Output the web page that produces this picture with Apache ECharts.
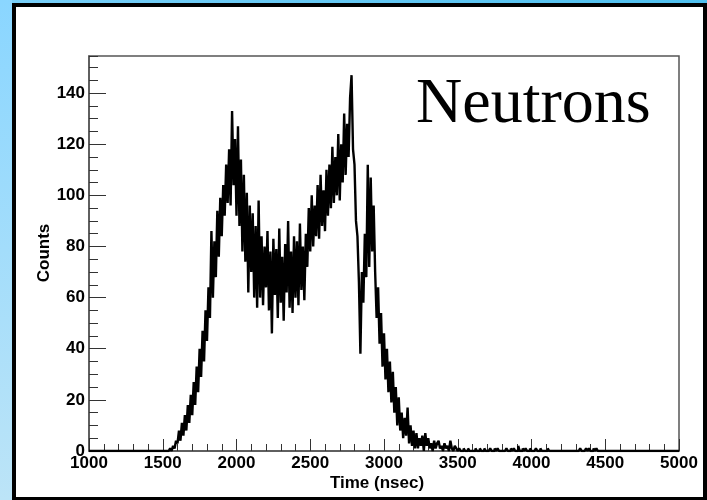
<!DOCTYPE html>
<html><head><meta charset="utf-8">
<script src="https://cdn.jsdelivr.net/npm/echarts@6/dist/echarts.min.js"></script>
<style>html,body{margin:0;padding:0;background:#fff}#c{width:707px;height:500px}</style>
</head><body><div id="c"></div>
<script>
// Histogram: 10 ns bins, first listed bin starts at 1500 ns
const binWidth = 10;
const firstBin = 1500;
const rise   = [0,0,0,0,0, 1,0,2,1,4, 3,8,4,11,6, 14,8,18,11,22, 14,27,18,33,23, 40,29,47,35,55, 43,64,52,86,60, 82,68,94,76,99];
const peak1  = [84,104,92,112,97, 118,96,133,104,122, 92,127,88,114,78, 108,74,101,62,96];
const valley = [70,93,60,88,56, 98,60,84,57,80, 64,86,55,78,46, 83,61,79,52,87, 58,76,51,81,62, 90,56,78,54,84, 60,82,57,89,63, 80,59,85,72,95];
const rise2  = [78,100,80,96,84, 104,83,108,88,102, 86,110,92,112,95, 119,97,115,100,124, 98,120,105,132,108, 128,115,138,147,118];
const fall   = [112,90,84,66,38, 70,58,85,68,112, 72,107,78,96,70, 52,64,42,54,33, 46,28,40,23,35, 19,31,15,25,10];
const tail   = [21,8,15,5,13, 6,17,3,10,2, 8,1,7,1,5, 2,6,0,7,2, 5,1,3,0,4, 1,3,4,1,2, 0,3,1,2,0, 4,1,0,2,1, 0,1,0,0,1, 0,0,1,0,0];
// isolated late counts [bin start (ns), counts]
const sparseTail = [[3620,1],[3650,1],[3680,1],[3720,1],[3750,1],[3770,1],[3830,1],[3860,1],[3880,1],[3910,2],[3940,1],[3960,1],[3990,1],[4030,1],[4060,1],[4110,1],[4330,1],[4370,1],[4390,1],[4420,1],[4440,1]];

const xMin = 1000, xMax = 5000, xMajor = 500;
const yMin = 0, yMax = 154.5, yMajor = 20, yMinor = 5;
const xTitle = 'Time (nsec)';
const yTitle = 'Counts';
const label = 'Neutrons';

const countsByBin = {};
[].concat(rise, peak1, valley, rise2, fall, tail).forEach((v, i) => { countsByBin[firstBin + i * binWidth] = v; });
sparseTail.forEach(([t, v]) => { countsByBin[t] = v; });
const data = [];
for (let t = xMin; t < xMax; t += binWidth) data.push([t, countsByBin[t] || 0]);
data.push([xMax, data[data.length - 1][1]]);

const axisCol = '#555';
const lab = { color: '#000', fontFamily: 'Liberation Sans', fontWeight: 'bold', fontSize: 17 };

const chart = echarts.init(document.getElementById('c'), null, { renderer: 'canvas' });
chart.setOption({
  animation: false,
  backgroundColor: '#fff',
  graphic: [
    { type: 'rect', z: -10, silent: true, shape: { x: 0, y: 0, width: 707, height: 500 },
      style: { fill: new echarts.graphic.LinearGradient(0, 0, 0, 1, [{ offset: 0, color: '#8ad6ff' }, { offset: 1, color: '#bce4f7' }]) } },
    { type: 'rect', z: -9, silent: true, shape: { x: 12, y: 0, width: 695, height: 4 },
      style: { fill: new echarts.graphic.LinearGradient(0, 0, 1, 0, [{ offset: 0, color: '#78cff8' }, { offset: 1, color: '#4fc0ef' }]) } },
    { type: 'rect', z: -8, silent: true, shape: { x: 12, y: 3, width: 695, height: 497 }, style: { fill: '#000' } },
    { type: 'rect', z: -7, silent: true, shape: { x: 16, y: 7, width: 687, height: 490 }, style: { fill: '#fff' } },
    { type: 'text', z: 10, x: 416, y: 73, style: { text: label, fill: '#000', font: '64px "Liberation Serif"', textAlign: 'left', textVerticalAlign: 'top' } },
    { type: 'text', z: 10, x: 44, y: 253, rotation: Math.PI / 2, style: { text: yTitle, fill: '#000', font: 'bold 17px "Liberation Sans"', textAlign: 'center', textVerticalAlign: 'middle' } },
    { type: 'text', z: 10, x: 377, y: 483, style: { text: xTitle, fill: '#000', font: 'bold 17px "Liberation Sans"', textAlign: 'center', textVerticalAlign: 'middle' } }
  ],
  grid: { left: 89, right: 28, top: 56, bottom: 49, show: true, borderColor: axisCol, borderWidth: 1.5, backgroundColor: 'transparent' },
  xAxis: [{
    type: 'value', min: xMin, max: xMax, interval: xMajor, position: 'bottom',
    axisLine: { show: true, lineStyle: { color: axisCol, width: 1.5 } },
    axisTick: { show: true, inside: true, length: 12, lineStyle: { color: '#333', width: 1 } },
    minorTick: { show: true, splitNumber: 5, length: 7, lineStyle: { color: '#333', width: 1 } },
    axisLabel: Object.assign({ margin: 4, formatter: v => String(v) }, lab),
    splitLine: { show: false }, minorSplitLine: { show: false }
  }],
  yAxis: [{
    type: 'value', min: yMin, max: yMax, interval: yMajor, position: 'left',
    axisLine: { show: true, lineStyle: { color: axisCol, width: 1.5 } },
    axisTick: { show: true, inside: true, length: 17, lineStyle: { color: '#333', width: 1 } },
    axisLabel: Object.assign({ margin: 4, showMaxLabel: false, formatter: v => String(v) }, lab),
    splitLine: { show: false }
  }, {
    type: 'value', min: yMin, max: yMax, interval: yMinor, position: 'left',
    axisLine: { show: false },
    axisTick: { show: true, inside: true, length: 9, lineStyle: { color: '#333', width: 1 } },
    axisLabel: { show: false },
    splitLine: { show: false }
  }],
  series: [{
    type: 'line', step: 'end', data: data, xAxisIndex: 0, yAxisIndex: 0,
    showSymbol: false, symbol: 'none',
    lineStyle: { color: '#000', width: 2.4 }, z: 5
  }]
});
</script></body></html>
